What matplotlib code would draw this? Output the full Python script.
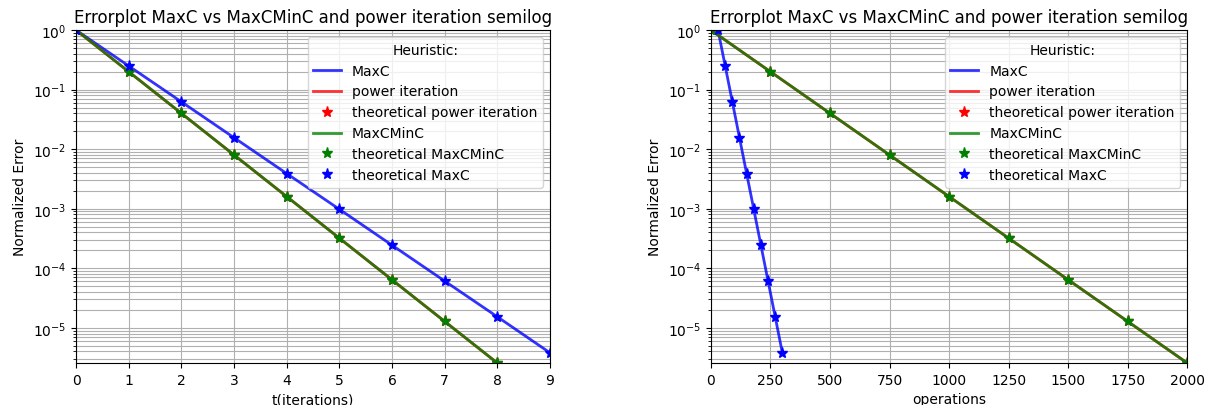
import numpy as np
import matplotlib
matplotlib.use("Agg")
import matplotlib.pyplot as plt

# error per iteration
t_maxc = [0, 1, 2, 3, 4, 5, 6, 7, 8, 9]
err_maxc = [1.0, 0.25, 0.0625, 0.0156, 0.0039, 0.00098, 0.000244, 0.000061, 0.0000153, 0.0000038]
t_mm = [0, 1, 2, 3, 4, 5, 6, 7, 8]
err_mm = [1.0, 0.2, 0.04, 0.008, 0.0016, 0.00032, 0.000064, 0.0000128, 0.00000256]
err_power = err_mm  # lies under MaxCMinC

# operations count
ops_maxc = [30, 60, 90, 120, 150, 180, 210, 240, 270, 300]
ops_mm = [0, 250, 500, 750, 1000, 1250, 1500, 1750, 2000]
ops_power = ops_mm

fig = plt.figure(figsize=(12.09, 4.06), dpi=100)
ax1 = fig.add_axes([0.0629, 0.1034, 0.392, 0.820])
ax2 = fig.add_axes([0.588, 0.1034, 0.394, 0.820])


def draw(ax, x_maxc, x_power, x_mm, xlabel, xmax):
    ax.semilogy(x_maxc, err_maxc, color="b", alpha=0.8, lw=2, label="MaxC")
    ax.semilogy(x_power, err_power, color="r", alpha=0.8, lw=2, label="power iteration")
    ax.semilogy(x_power, err_power, "r*", ms=8, label="theoretical power iteration")
    ax.semilogy(x_mm, err_mm, color="g", alpha=0.8, lw=2, label="MaxCMinC")
    ax.semilogy(x_mm, err_mm, "g*", ms=8, label="theoretical MaxCMinC")
    ax.semilogy(x_maxc, err_maxc, "b*", ms=8, label="theoretical MaxC")
    ax.set_xlim(0, xmax)
    ax.set_ylim(min(err_mm), 1)
    ax.grid(which="both", color="#b0b0b0", lw=0.8)
    ax.set_title("Errorplot MaxC vs MaxCMinC and power iteration semilog", fontsize=12)
    ax.set_xlabel(xlabel)
    ax.set_ylabel("Normalized Error")
    ax.legend(title="Heuristic:", loc="upper right")


draw(ax1, t_maxc, t_mm, t_mm, "t(iterations)", 9)
draw(ax2, ops_maxc, ops_power, ops_mm, "operations", 2000)

plt.savefig("out.png", dpi=100)
